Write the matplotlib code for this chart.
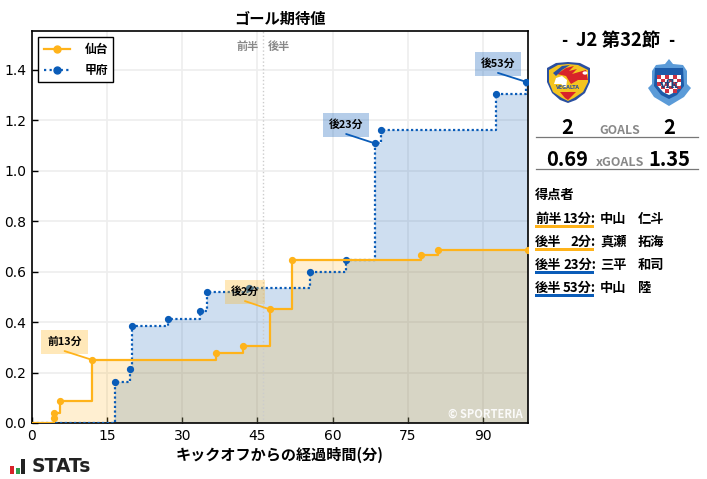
import matplotlib
matplotlib.use("Agg")
import matplotlib.pyplot as plt
from matplotlib.patches import Polygon, Rectangle, Circle

plt.rcParams['font.family'] = ['Noto Sans CJK JP', 'DejaVu Sans']

# xG timeline, (minute, cumulative xG)
sendai_min = [0, 4.45, 4.45, 5.65, 12.0, 36.8, 42.2, 47.5, 51.8, 77.7, 81.1, 99]
sendai_xg = [0, 0.021, 0.038, 0.087, 0.25, 0.277, 0.305, 0.45, 0.645, 0.665, 0.685, 0.685]
kofu_min = [0, 16.6, 19.5, 20.0, 27.2, 33.6, 35.0, 43.3, 55.4, 62.7, 68.4, 69.6, 92.7, 98.7, 99]
kofu_xg = [0, 0.161, 0.213, 0.386, 0.414, 0.445, 0.518, 0.535, 0.597, 0.646, 1.108, 1.16, 1.304, 1.351, 1.351]

x_ticks = [0, 15, 30, 45, 60, 75, 90]
y_ticks = [0.0, 0.2, 0.4, 0.6, 0.8, 1.0, 1.2, 1.4]

scorer_half = ["前半", "後半", "後半", "後半"]
scorer_minute = ["13分:", "2分:", "23分:", "53分:"]
scorer_family = ["中山", "真瀬", "三平", "中山"]
scorer_given = ["仁斗", "拓海", "和司", "陸"]

ORANGE = "#ffb31a"
BLUE = "#0a5cb8"
W, H = 707, 479


def px(x, y):
    # pixel position (top left origin) to figure fraction
    return x / W, 1 - y / H


def ftext(x, y, s, **kw):
    kw.setdefault("ha", "center")
    kw.setdefault("va", "center")
    return fig.text(*px(x, y), s, **kw)


def fpoly(points, **kw):
    pts = [px(a, b) for a, b in points]
    fig.add_artist(Polygon(pts, closed=True, transform=fig.transFigure, lw=0, **kw))


def frect(x, y, w, h, color):
    fx, fy = px(x, y + h)
    fig.add_artist(Rectangle((fx, fy), w / W, h / H, transform=fig.transFigure, color=color, lw=0))


def fline(x0, x1, y, color="#777777", lw=0.9):
    a = px(x0, y)
    b = px(x1, y)
    fig.add_artist(plt.Line2D([a[0], b[0]], [a[1], b[1]], color=color, lw=lw))


fig = plt.figure(figsize=(7.07, 4.79), dpi=100)
ax = fig.add_axes([32 / W, 1 - 423 / H, 496 / W, 392 / H])

ax.fill_between(kofu_min, kofu_xg, step="post", color=BLUE, alpha=0.2, lw=0)
ax.fill_between(sendai_min, sendai_xg, step="post", color=ORANGE, alpha=0.2, lw=0)
ax.step(kofu_min, kofu_xg, where="post", color=BLUE, lw=1.6, ls=(0, (1, 1.1)), zorder=3)
ax.step(sendai_min, sendai_xg, where="post", color=ORANGE, lw=1.6, zorder=4)
ax.plot(kofu_min[1:-1], kofu_xg[1:-1], "o", color=BLUE, ms=4.2, zorder=3)
ax.plot(sendai_min[1:], sendai_xg[1:], "o", color=ORANGE, ms=4.2, zorder=4)
h1, = ax.plot([], [], color=ORANGE, lw=1.6, marker="o", ms=5, label="仙台")
h2, = ax.plot([], [], color=BLUE, lw=1.6, ls=(0, (1, 1.5)), marker="o", ms=5, label="甲府")

ax.set_xlim(0, 99)
ax.set_ylim(0, 1.553)
ax.set_xticks(x_ticks)
ax.set_yticks(y_ticks)
ax.tick_params(direction="in", length=4, width=1, labelsize=10, pad=4)
for lab in ax.get_xticklabels() + ax.get_yticklabels():
    lab.set_family("DejaVu Sans")
ax.grid(color="#eeeeee", lw=1.2)
ax.set_axisbelow(True)
for s in ax.spines.values():
    s.set_linewidth(1.2)
ax.set_title("ゴール期待値", fontsize=11, fontweight="bold", pad=5)
ax.set_xlabel("キックオフからの経過時間(分)", fontsize=10.9, fontweight="bold", labelpad=3)

ax.axvline(46.2, color="#cccccc", lw=1, ls=":")
ax.text(45.2, 1.492, "前半", ha="right", va="center", fontsize=8, color="#888888", fontweight="bold")
ax.text(47.1, 1.492, "後半", ha="left", va="center", fontsize=8, color="#888888", fontweight="bold")

# goal callouts
callouts = [
    ("前13分", 6.5, 0.321, 12.0, 0.25, ORANGE),
    ("後2分", 42.5, 0.519, 47.5, 0.45, ORANGE),
    ("後23分", 62.7, 1.181, 68.4, 1.108, BLUE),
    ("後53分", 93.0, 1.423, 98.7, 1.351, BLUE),
]
box_w = {"前13分": 9.3, "後2分": 8.0, "後23分": 9.2, "後53分": 9.2}
for label, tx, ty, gx, gy, col in callouts:
    w = box_w[label]
    ax.add_patch(Rectangle((tx - w / 2, ty - 0.047), w, 0.094, color=col, alpha=0.3, lw=0, zorder=5))
    ax.text(tx, ty, label, ha="center", va="center", fontsize=7.8, fontweight="bold", zorder=6)
    ax.annotate("", xy=(gx, gy), xytext=(tx, ty - 0.036), zorder=6,
                arrowprops=dict(arrowstyle="-", color=col, lw=1.3, shrinkA=0, shrinkB=0))

ax.text(98, 0.036, "© SPORTERIA", ha="right", va="center", fontsize=8, color="white", fontweight="bold", alpha=0.9)

leg = ax.legend(handles=[h1, h2], loc="upper left", prop=dict(size=8.5, weight="bold"), fancybox=False,
                edgecolor="black", framealpha=1, handlelength=2.2, borderpad=0.45, labelspacing=0.7,
                bbox_to_anchor=(0.0, 1.0), borderaxespad=0.55, handletextpad=1.25)
leg.get_frame().set_linewidth(1)

# right hand panel
ftext(618, 40, "J2 第32節", fontsize=13.3, fontweight="bold")
ftext(564, 41, "-", fontsize=12, fontweight="bold")
ftext(671, 41, "-", fontsize=12, fontweight="bold")

# vegalta crest, rough shape
fpoly([(547, 68), (556, 63), (568, 62), (580, 63), (590, 68), (590, 82), (585, 93), (576, 100), (568, 103),
       (560, 100), (552, 93), (547, 82)], color="#2a4fa0")
fpoly([(549, 70), (558, 65), (568, 64), (578, 65), (588, 70), (588, 82), (583, 92), (574, 98), (568, 101),
       (562, 98), (553, 92), (549, 82)], color="#f4c41f")
fpoly([(557, 74), (566, 68), (574, 66), (569, 71), (577, 69), (572, 74), (586, 70), (588, 80), (578, 80),
       (571, 84), (566, 76)], color="#d8232a")
fpoly([(553, 73), (562, 66), (570, 65), (562, 70), (556, 76)], color="#2a4fa0")
fpoly([(554, 84), (556, 78), (562, 76), (567, 80), (566, 88), (561, 84)], color="white")
fpoly([(560, 92), (576, 92), (570, 98), (568, 100), (565, 98)], color="#d8232a")
fig.add_artist(Circle(px(585, 73), 0.0035, transform=fig.transFigure, color="white", lw=0))
ftext(568, 87.5, "VEGALTA", fontsize=3.5, fontweight="bold", color="#2a4fa0", family="DejaVu Sans")

# ventforet crest, rough shape
fpoly([(669, 59), (673, 64), (683, 65), (687, 71), (687, 84), (691, 88), (684, 97), (669, 106), (654, 97),
       (648, 88), (652, 84), (652, 71), (656, 65), (665, 64)], color="#5b9bd8")
fpoly([(655, 68), (683, 68), (684, 86), (677, 95), (669, 99), (661, 95), (654, 86)], color="#1c5aa8")
fpoly([(657, 75), (681, 75), (681, 85), (675, 92), (669, 95), (663, 92), (657, 85)], color="white")
for r in range(5):
    for c in range(6):
        if (r + c) % 2 == 0 and not (r == 4 and (c < 1 or c > 4)):
            frect(657 + c * 4, 75 + r * 3.6, 4, 3.6, "#cc3344")
ftext(669, 84, "vfk", fontsize=8, fontweight="bold", color="#17427f", family="DejaVu Serif")

ftext(567.5, 128, "2", fontsize=14.5, fontweight="bold")
ftext(669.5, 128, "2", fontsize=14.5, fontweight="bold")
ftext(620, 130, "GOALS", fontsize=8.8, fontweight="bold", color="#888888")
fline(536, 698, 137)
ftext(567.5, 159, "0.69", fontsize=14.5, fontweight="bold")
ftext(669.5, 159, "1.35", fontsize=14.5, fontweight="bold")
ftext(620, 162, "xGOALS", fontsize=9, fontweight="bold", color="#888888")
fline(536, 698, 169)

ftext(535, 195, "得点者", fontsize=9.5, fontweight="bold", ha="left")
scorer_cols = [ORANGE, ORANGE, BLUE, BLUE]
for i, c in enumerate(scorer_cols):
    y = 219 + i * 23
    frect(535, y + 6, 59, 3, c)
    ftext(535, y, scorer_half[i], fontsize=9.5, fontweight="bold", ha="left")
    ftext(596, y, scorer_minute[i], fontsize=9.5, fontweight="bold", ha="right")
    ftext(600, y, scorer_family[i], fontsize=9.5, fontweight="bold", ha="left")
    ftext(638, y, scorer_given[i], fontsize=9.5, fontweight="bold", ha="left")

# stats logo
frect(10, 466, 4.3, 7.5, "#d8232a")
frect(15.5, 468, 4.3, 5.5, "#2e9e4f")
frect(20.7, 459, 4, 14.5, "#222222")
ftext(32, 467, "STATs", fontsize=13.5, fontweight="bold", ha="left", family="DejaVu Sans", color="#222222")

fig.savefig("out.png", dpi=100)
